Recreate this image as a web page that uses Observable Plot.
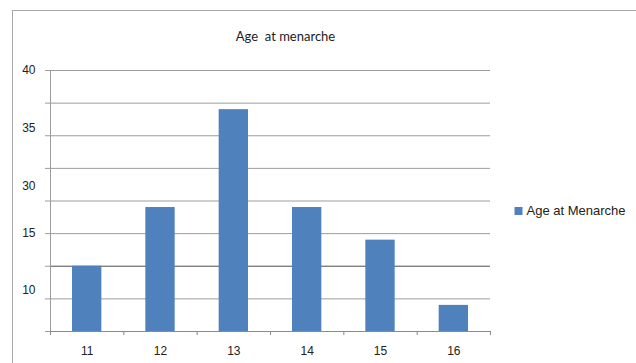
<!DOCTYPE html>
<html>
<head>
<meta charset="utf-8">
<script src="https://cdn.jsdelivr.net/npm/d3@7"></script>
<script src="https://cdn.jsdelivr.net/npm/@observablehq/plot@0.6"></script>
<style>
  body { margin: 0; background: #fff; }
</style>
</head>
<body>
<div id="chart"></div>
<script>
// Age at menarche: number of respondents per age (years)
const ages = [11, 12, 13, 14, 15, 16];
const counts = [10, 19, 34, 19, 14, 4];
const seriesName = "Age at Menarche";
const chartTitle = "Age  at menarche";

// Horizontal gridlines / y tick marks
const gridValues = [0, 5, 10, 15, 20, 25, 30, 35, 40];
// Printed y tick labels and the heights they sit at
const yTickLabels = ["40", "35", "30", "15", "10"];
const yTickLabelValues = [40, 31.2, 22.3, 15, 6.4];
// Category boundaries carrying the x tick marks
const categoryEdges = [10.5, 11.5, 12.5, 13.5, 14.5, 15.5, 16.5];

const rows = ages.map((age, i) => ({ age, count: counts[i] }));
const yLabelAt = new Map(yTickLabelValues.map((v, i) => [v, yTickLabels[i]]));
const barHalf = 0.2;
const barColor = "#4f81bd";
const gridColor = "#9c9c9c";

const chart = Plot.plot({
  width: 636,
  height: 363,
  marginLeft: 50,
  marginRight: 146,
  marginTop: 70,
  marginBottom: 32,
  style: {
    fontFamily: "'Liberation Sans', Arial, sans-serif",
    fontSize: "12px",
    color: "#222",
    background: "#fff",
    overflow: "hidden"
  },
  x: { domain: [10.5, 16.5], label: null },
  y: { domain: [0, 40], label: null },
  marks: [
    // chart-area border (left and top edges visible)
    Plot.frame({ stroke: "#a8a8a8", insetLeft: -38, insetTop: -60, insetRight: -200, insetBottom: -60 }),
    // gridlines
    Plot.ruleY(gridValues, { stroke: gridColor }),
    Plot.ruleY([10], { stroke: "#707070" }),
    Plot.ruleY([0], { stroke: "#8a8a8a" }),
    // value axis spine
    Plot.ruleX([10.5], { y1: 0, y2: 40, stroke: gridColor }),
    // y tick marks and printed labels
    Plot.axisY(gridValues, { tickSize: 5, tickFormat: () => "", stroke: gridColor, label: null }),
    Plot.axisY(yTickLabelValues, { tickSize: 0, tickPadding: 15, tickFormat: d => yLabelAt.get(d), fill: "#222", label: null }),
    // x tick marks at category boundaries, labels at category centres
    Plot.axisX(categoryEdges, { tickSize: 4, tickFormat: () => "", stroke: "#8a8a8a", label: null }),
    Plot.axisX(ages, { tickSize: 0, tickPadding: 15, tickFormat: d => String(d), fill: "#222", label: null }),
    // bars
    Plot.rectY(rows, { x1: d => d.age - barHalf, x2: d => d.age + barHalf, y: "count", fill: barColor }),
    // title
    Plot.text([chartTitle], {
      frameAnchor: "top", dx: 15, dy: -34, lineAnchor: "middle",
      fontFamily: "Lato, 'Open Sans', sans-serif", fontSize: 13, fill: "#222"
    }),
    // legend
    Plot.dot([seriesName], {
      frameAnchor: "right", dx: 28, dy: 10, symbol: "square", r: 4.5, fill: barColor, stroke: null
    }),
    Plot.text([seriesName], {
      frameAnchor: "right", dx: 36, dy: 10, textAnchor: "start", lineAnchor: "middle",
      fontSize: 13, fill: "#222"
    })
  ]
});

document.getElementById("chart").append(chart);
</script>
</body>
</html>
